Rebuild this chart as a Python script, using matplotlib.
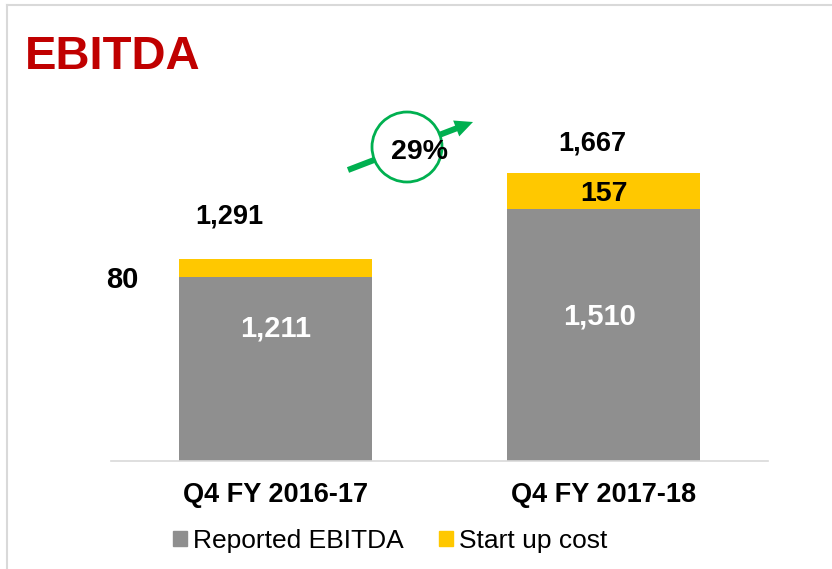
import matplotlib
matplotlib.use("Agg")
import matplotlib.pyplot as plt
from matplotlib.patches import Circle, FancyArrow, Patch
from matplotlib.lines import Line2D

plt.rcParams['font.family'] = ['Liberation Sans', 'DejaVu Sans']

# data
categories = ['Q4 FY 2016-17', 'Q4 FY 2017-18']
reported = [1211, 1510]
startup = [80, 157]
totals = [1291, 1667]
growth_label = '29%'

GREY = '#8f8f8f'
YELLOW = '#ffc800'
GREEN = '#00b050'
RED = '#c00000'
LINE = '#d9d9d9'

W, H, DPI = 832, 569, 100
fig = plt.figure(figsize=(W / DPI, H / DPI), dpi=DPI)

# plot area in pixels (left, top, right, bottom)
L, T, R, B = 111, 98, 768, 460.7
ax = fig.add_axes([L / W, 1 - B / H, (R - L) / W, (B - T) / H])

x = range(len(categories))
bw = 0.589
ax.bar(x, reported, width=bw, color=GREY, zorder=2)
ax.bar(x, startup, width=bw, bottom=reported, color=YELLOW, zorder=2)

ax.set_xlim(-0.5, 1.5)
ax.set_ylim(400, 2000)
ax.set_yticks([])
ax.set_xticks(list(x))
ax.set_xticklabels(categories, fontsize=19.5, fontweight='bold')
ax.tick_params(axis='x', length=0, pad=15)
for s in ['top', 'left', 'right']:
    ax.spines[s].set_visible(False)
ax.spines['bottom'].set_color(LINE)
ax.spines['bottom'].set_linewidth(1.2)

px = 0.72  # points per pixel

# value labels (offsets in pixels from the segment top)
grey_off = [(0, -52), (-4, -107)]
total_off = [(-46, 42), (-11, 30)]
for i in x:
    dx, dy = grey_off[i]
    ax.annotate(f'{reported[i]:,}', (i, reported[i]), xytext=(dx * px, dy * px),
                textcoords='offset points', ha='center', va='center',
                color='white', fontsize=21, fontweight='bold')
    dx, dy = total_off[i]
    ax.annotate(f'{totals[i]:,}', (i, totals[i]), xytext=(dx * px, dy * px),
                textcoords='offset points', ha='center', va='center',
                fontsize=19.5, fontweight='bold')

# start up cost labels
ax.annotate(f'{startup[0]}', (-0.5, reported[0] + startup[0] / 2),
            xytext=(11 * px, -12 * px), textcoords='offset points',
            ha='center', va='center', fontsize=21, fontweight='bold',
            annotation_clip=False)
ax.annotate(f'{startup[1]}', (1, reported[1] + startup[1] / 2),
            xytext=(0, -3 * px), textcoords='offset points',
            ha='center', va='center', fontsize=20.5, fontweight='bold')

# overlay in pixel coordinates for decorations
ov = fig.add_axes([0, 0, 1, 1], zorder=5)
ov.set_xlim(0, W)
ov.set_ylim(H, 0)
ov.axis('off')
ov.patch.set_alpha(0)

ov.add_line(Line2D([6.7, 6.7], [5, H], color=LINE, lw=1.5))
ov.add_line(Line2D([6.7, W], [5, 5], color=LINE, lw=1.5))

ov.text(25, 69.3, 'EBITDA', color=RED, fontsize=34, fontweight='bold',
        ha='left', va='baseline')

ov.add_patch(FancyArrow(348, 170, 473 - 348, 122 - 170, width=6, head_width=17,
                        head_length=18, length_includes_head=True,
                        color=GREEN, lw=0, zorder=1))
ov.add_patch(Circle((407, 147), 35, facecolor='white', edgecolor=GREEN,
                    lw=2, zorder=2))
ov.text(419, 152, growth_label, ha='center', va='center', fontsize=20.5,
        fontweight='bold', zorder=3)

handles = [Patch(color=GREY, label='Reported EBITDA'),
           Patch(color=YELLOW, label='Start up cost')]
ov.legend(handles=handles, loc='center left', bbox_to_anchor=(172.7, 541),
          bbox_transform=ov.transData, ncol=2, frameon=False, fontsize=19,
          handlelength=0.53, handleheight=0.53, handletextpad=0.23,
          columnspacing=1.36, borderpad=0, borderaxespad=0)

fig.savefig('out.png', dpi=DPI)
